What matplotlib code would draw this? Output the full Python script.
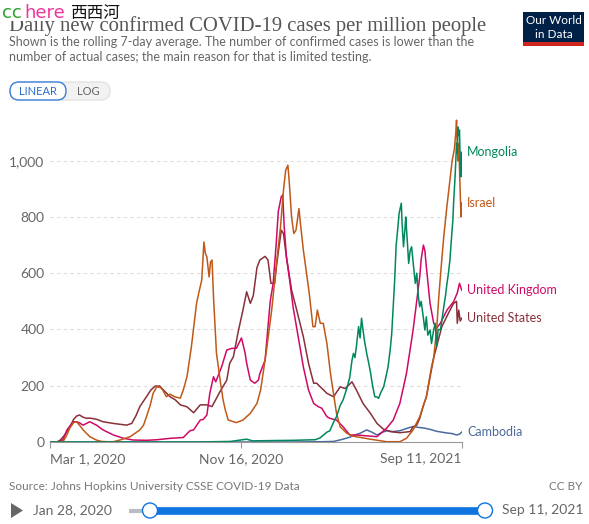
import numpy as np
import pandas as pd
import matplotlib
matplotlib.use('Agg')
import matplotlib.pyplot as plt
from matplotlib.patches import FancyBboxPatch, Rectangle, Circle, Polygon
from matplotlib.ticker import FuncFormatter

plt.rcParams['font.family'] = ['Lato', 'DejaVu Sans']

start = pd.Timestamp('2020-03-01')
end = pd.Timestamp('2021-09-11')

# days since Mar 1, 2020 -> daily new cases per million (7-day avg)
israel_days = [0, 14, 18, 22, 27, 32, 36, 40, 45, 54, 63, 70, 77, 86, 95, 109, 122, 127, 131, 136,
               140, 145, 150, 153, 158, 163, 170, 177, 181, 186, 192, 199, 202, 206, 209, 211, 213, 216, 218, 220,
               222, 226, 231, 235, 238, 242, 253, 262, 272, 281, 286, 294, 301, 308, 313, 317, 320, 323, 325, 328,
               331, 334, 338, 341, 344, 349, 352, 357, 360, 363, 367, 371, 376, 381, 389, 394, 403, 411, 435, 457,
               475, 484, 493, 502, 511, 518, 521, 525, 528, 532, 535, 539, 543, 546, 549, 551, 552, 553, 554, 555,
               557, 558, 559]
israel_vals = [0, 0, 3, 20, 50, 69, 72, 60, 43, 19, 7, 2, 1, 1, 7, 19, 43, 60, 90, 130,
               173, 196, 194, 185, 161, 170, 160, 156, 185, 232, 339, 493, 530, 575, 711, 670, 658, 587, 640, 647,
               516, 316, 220, 150, 114, 78, 69, 78, 102, 137, 185, 327, 469, 647, 765, 895, 966, 984, 919, 800,
               741, 753, 830, 753, 682, 587, 528, 410, 410, 469, 422, 422, 350, 240, 102, 54, 31, 21, 10, 1,
               1, 13, 43, 90, 161, 267, 300, 400, 520, 650, 740, 840, 930, 1000, 1040, 1100, 1144, 1050, 1000, 1062,
               884, 800, 850]

us_days = [0, 10, 14, 20, 27, 32, 36, 40, 45, 50, 54, 63, 72, 86, 104, 111, 117, 122, 131, 137,
           143, 149, 154, 163, 170, 177, 186, 195, 204, 213, 220, 231, 240, 244, 249, 256, 262, 267, 272, 276,
           281, 285, 292, 296, 300, 305, 308, 314, 317, 321, 328, 335, 344, 351, 358, 362, 367, 376, 385, 394,
           401, 410, 416, 425, 435, 444, 453, 462, 475, 489, 493, 498, 502, 507, 511, 516, 521, 525, 532, 541,
           548, 552, 553, 555, 557, 559]
us_vals = [0, 1, 7, 25, 54, 80, 92, 96, 88, 84, 85, 81, 72, 66, 60, 66, 95, 126, 161, 185,
           199, 199, 185, 161, 150, 132, 125, 104, 132, 132, 126, 180, 220, 280, 303, 398, 469, 534, 493, 520,
           620, 647, 660, 647, 564, 564, 636, 753, 741, 658, 540, 469, 374, 280, 209, 209, 196, 173, 161, 196,
           190, 214, 185, 137, 102, 66, 45, 37, 33, 37, 54, 60, 84, 130, 160, 230, 300, 340, 410, 458,
           493, 500, 422, 469, 430, 440]

uk_days = [0, 14, 18, 23, 28, 32, 36, 40, 45, 54, 63, 72, 86, 100, 113, 131, 145, 163, 181, 190,
           195, 204, 208, 213, 217, 222, 225, 233, 240, 247, 253, 260, 265, 267, 272, 278, 283, 285, 292, 299,
           303, 307, 310, 314, 316, 318, 321, 326, 330, 337, 344, 351, 358, 364, 369, 376, 380, 389, 398, 407,
           416, 425, 444, 457, 466, 475, 484, 493, 502, 504, 507, 509, 511, 516, 521, 525, 530, 539, 548, 553,
           556, 559]
uk_vals = [0, 1, 10, 43, 60, 72, 72, 68, 60, 72, 60, 43, 25, 13, 7, 6, 8, 13, 16, 40,
           43, 78, 80, 96, 173, 232, 214, 267, 327, 333, 333, 370, 315, 280, 220, 209, 220, 244, 290, 500,
           564, 700, 820, 872, 878, 765, 658, 564, 481, 374, 267, 185, 137, 126, 120, 90, 84, 78, 54, 25,
           25, 23, 19, 49, 78, 137, 244, 398, 587, 650, 700, 680, 623, 493, 422, 405, 422, 469, 499, 530,
           564, 540]

mongolia_days = [0, 200, 245, 267, 275, 300, 330, 360, 367, 376, 380, 385, 389, 394, 398, 403, 407, 410, 412, 414,
                 416, 419, 421, 423, 425, 427, 430, 432, 435, 438, 441, 444, 446, 449, 453, 456, 459, 462, 464, 466,
                 468, 470, 472, 474, 475, 477, 478, 480, 482, 483, 485, 487, 489, 491, 493, 496, 498, 500, 502, 504,
                 507, 509, 511, 513, 516, 518, 521, 523, 525, 527, 530, 532, 534, 537, 539, 541, 543, 545, 547, 548,
                 550, 551, 552, 553, 554, 555, 556, 557, 558, 559]
mongolia_vals = [0, 0, 2, 10, 4, 5, 6, 8, 15, 35, 40, 70, 90, 130, 150, 190, 230, 290, 315, 300,
                 339, 410, 370, 440, 398, 360, 315, 290, 250, 200, 161, 160, 155, 175, 196, 230, 267, 330, 386, 480,
                 576, 700, 753, 813, 825, 849, 780, 694, 760, 800, 720, 635, 680, 694, 640, 564, 600, 520, 481, 500,
                 440, 398, 445, 380, 398, 350, 400, 422, 340, 400, 398, 430, 469, 520, 564, 600, 647, 720, 789, 850,
                 943, 1000, 1062, 1026, 1120, 1090, 1109, 1000, 943, 1030]

cambodia_days = [0, 330, 370, 385, 395, 407, 414, 421, 430, 437, 444, 450, 457, 466, 475, 484, 493, 500, 507, 516,
                 525, 532, 539, 546, 552, 556, 559]
cambodia_vals = [0, 0, 1, 2, 8, 17, 25, 31, 43, 35, 25, 33, 40, 37, 40, 48, 55, 52, 50, 45,
                 38, 35, 32, 30, 25, 28, 35]

series = [
    ('Cambodia', cambodia_days, cambodia_vals, '#4C6A9C'),
    ('United States', us_days, us_vals, '#883039'),
    ('United Kingdom', uk_days, uk_vals, '#CF0A66'),
    ('Israel', israel_days, israel_vals, '#C05917'),
    ('Mongolia', mongolia_days, mongolia_vals, '#00875E'),
]

yticks = [0, 200, 400, 600, 800, 1000]
xticks = [start, pd.Timestamp('2020-11-16'), end]
xticklabels = ['Mar 1, 2020', 'Nov 16, 2020', 'Sep 11, 2021']

W, H = 589, 524
fig = plt.figure(figsize=(W / 100, H / 100), dpi=100)

# overlay in pixel units for header / footer bits
ov = fig.add_axes([0, 0, 1, 1])
ov.set_xlim(0, W)
ov.set_ylim(H, 0)
ov.axis('off')

ax = fig.add_axes([50 / W, (H - 442) / H, 411.7 / W, (442 - 115.7) / H])
for name, days, vals, col in series:
    assert len(days) == len(vals)
    dates = start + pd.to_timedelta(days, unit='D')
    ax.plot(dates, vals, color=col, lw=1.1, solid_joinstyle='round')
    ax.annotate(name, xy=(dates[-1], vals[-1]), xytext=(4, 0), textcoords='offset points',
                color=col, fontsize=9, va='center', ha='left', annotation_clip=False)

ax.set_xlim(start, end)
ax.set_ylim(0, 1160)
for s in ['top', 'right', 'left']:
    ax.spines[s].set_visible(False)
ax.spines['bottom'].set_color('#999999')
ax.spines['bottom'].set_linewidth(0.8)
ax.set_yticks(yticks)
ax.yaxis.set_major_formatter(FuncFormatter(lambda v, p: f'{int(v):,}'))
ax.tick_params(axis='y', length=0, pad=4, labelsize=10, labelcolor='#666666')
ax.grid(axis='y', color='#dddddd', linestyle=(0, (3, 3)), lw=0.8)
ax.set_axisbelow(True)
ax.set_xticks(xticks)
ax.set_xticklabels(xticklabels)
for lab, ha in zip(ax.get_xticklabels(), ['left', 'center', 'right']):
    lab.set_horizontalalignment(ha)
ax.tick_params(axis='x', length=4, color='#999999', width=0.8, pad=4, labelsize=10, labelcolor='#666666')
ax.patch.set_alpha(0)

# header (the watermark in the top-left sits over the title, as in the source)
ov.text(9, 31, 'Daily new confirmed COVID-19 cases per million people', family='Liberation Serif',
        fontsize=14.9, color='#555555', va='baseline', ha='left', zorder=2)
ov.add_patch(Rectangle((0, 0), 124, 21, facecolor='white', edgecolor='none', zorder=3))
ov.text(2, 18, 'cc', color='#2ca02c', fontsize=13, family='DejaVu Sans', va='baseline', zorder=4)
ov.text(24, 18, 'here', color='#f0359a', fontsize=13, family='DejaVu Sans', va='baseline', zorder=4)
ov.text(70, 18, '西西河', color='#111111', fontsize=12, family=['Noto Sans CJK SC', 'DejaVu Sans'],
        va='baseline', zorder=4)
ov.text(9, 42, 'Shown is the rolling 7-day average. The number of confirmed cases is lower than the',
        fontsize=9, color='#666666', va='center')
ov.text(9, 57, 'number of actual cases; the main reason for that is limited testing.',
        fontsize=9, color='#666666', va='center')

# linear / log toggle
ov.add_patch(FancyBboxPatch((10, 82), 100, 18, boxstyle='round,pad=0,rounding_size=9',
                            facecolor='#f2f2f2', edgecolor='#dddddd', lw=0.8))
ov.add_patch(FancyBboxPatch((10, 82), 56, 18, boxstyle='round,pad=0,rounding_size=9',
                            facecolor='white', edgecolor='#3b7dd8', lw=1.0))
ov.text(38, 91.5, 'LINEAR', fontsize=8, color='#2a6fcf', ha='center', va='center')
ov.text(88, 91.5, 'LOG', fontsize=8, color='#666666', ha='center', va='center')

# logo
ov.add_patch(Rectangle((523, 12), 61, 33, facecolor='#002147', edgecolor='none'))
ov.add_patch(Rectangle((523, 42), 61, 4, facecolor='#ce261e', edgecolor='none'))
ov.text(553.5, 21, 'Our World', color='white', fontsize=8.5, ha='center', va='center')
ov.text(553.5, 34, 'in Data', color='white', fontsize=8.5, ha='center', va='center')

# footer
ov.text(9, 487, 'Source: Johns Hopkins University CSSE COVID-19 Data', fontsize=8.5, color='#777777',
        va='center')
ov.text(582, 487, 'CC BY', fontsize=8.5, color='#777777', va='center', ha='right')

# timeline
ov.add_patch(Polygon([[11, 503], [11, 518], [23, 510.5]], closed=True, facecolor='#666666', edgecolor='none'))
ov.text(33, 510.5, 'Jan 28, 2020', fontsize=10, color='#666666', va='center')
ov.plot([129, 150], [510.5, 510.5], color='#b7bcc6', lw=3, solid_capstyle='butt')
ov.plot([150, 485], [510.5, 510.5], color='#0f73e0', lw=5.5, solid_capstyle='butt')
for cx in [150, 485]:
    ov.add_patch(Circle((cx, 510.5), 7.5, facecolor='white', edgecolor='#0f73e0', lw=1.0, zorder=5))
ov.text(583, 510.5, 'Sep 11, 2021', fontsize=10, color='#666666', va='center', ha='right')

fig.savefig('out.png', dpi=100)
